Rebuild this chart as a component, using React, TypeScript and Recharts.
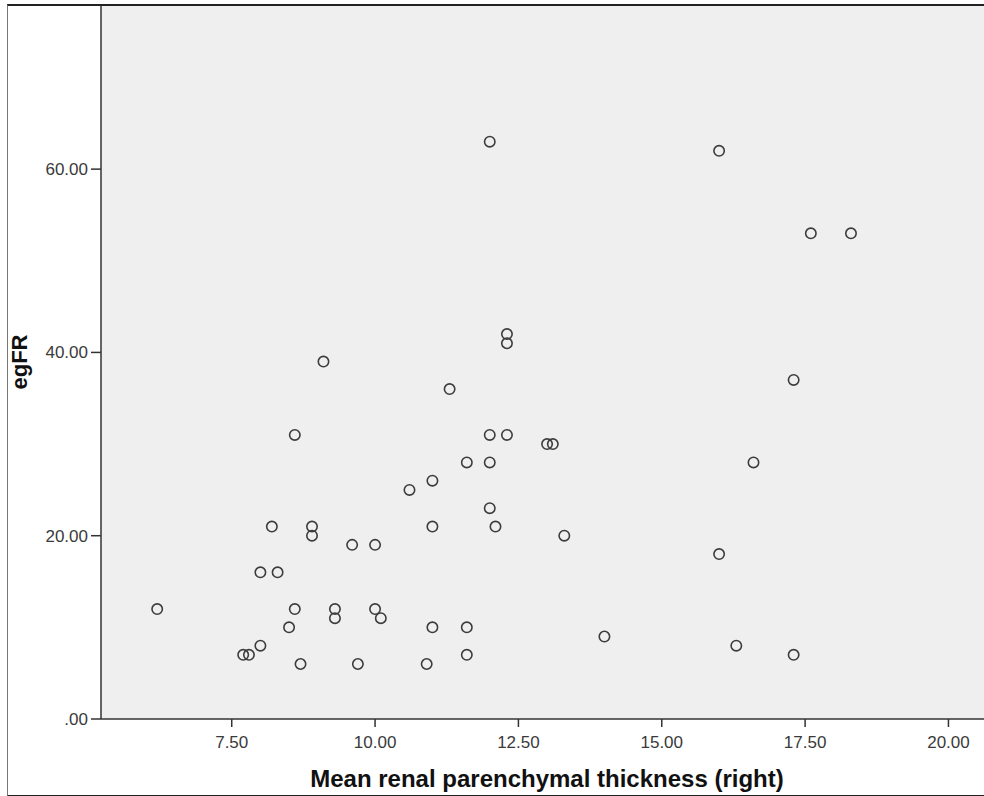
import { ScatterChart, Scatter, XAxis, YAxis, CartesianGrid } from "recharts";

// right parenchymal thickness (mm) vs egFR
const thickness = [
  6.2, 7.7, 7.8, 8.0, 8.0, 8.3, 8.2, 8.5, 8.6, 8.6, 8.7, 8.9, 8.9, 9.1, 9.3, 9.3, 9.6,
  9.7, 10.0, 10.0, 10.1, 10.6, 10.9, 11.0, 11.0, 11.0, 11.3, 11.6, 11.6, 11.6, 12.0,
  12.0, 12.0, 12.0, 12.1, 12.3, 12.3, 12.3, 13.0, 13.1, 13.3, 14.0, 16.0, 16.0, 16.3,
  16.6, 17.3, 17.3, 17.6, 18.3,
];
const egfr = [
  12, 7, 7, 8, 16, 16, 21, 10, 12, 31, 6, 21, 20, 39, 12, 11, 19,
  6, 19, 12, 11, 25, 6, 26, 21, 10, 36, 28, 10, 7, 63,
  31, 28, 23, 21, 42, 41, 31, 30, 30, 20, 9, 62, 18, 8,
  28, 37, 7, 53, 53,
];
const xTicks = [7.5, 10, 12.5, 15, 17.5, 20];
const yTicks = [0, 20, 40, 60];

const points = thickness.map((x, i) => ({ x, y: egfr[i] }));

const FONT = '"Liberation Sans", Arial, sans-serif';
const tickStyle = { fontSize: 17, fill: "#3a3a3a", fontFamily: FONT };

const fmtY = (v: number) => (v === 0 ? ".00" : v.toFixed(2));

const OpenDot = (props: any) => (
  <circle cx={props.cx} cy={props.cy} r={5.2} fill="none" stroke="#3c3c3c" strokeWidth={1.6} />
);

export default function App() {
  return (
    <div style={{ position: "absolute", left: 0, top: 0, width: 984, height: 796, background: "#fff" }}>
      <div
        style={{
          position: "absolute",
          left: 7,
          top: 4,
          width: 990,
          height: 789,
          borderLeft: "1px solid #777",
          borderTop: "2px solid #222",
          borderBottom: "2px solid #222",
        }}
      />
      <div style={{ position: "absolute", left: 0, top: 0 }}>
        <ScatterChart width={984} height={796} margin={{ top: 6, right: 0, bottom: 0, left: 0 }}>
          <CartesianGrid horizontal={false} vertical={false} fill="#efefef" stroke="none" />
          <XAxis
            type="number"
            dataKey="x"
            domain={[5.22, 20.62]}
            ticks={xTicks}
            allowDataOverflow
            tickFormatter={(v: number) => v.toFixed(2)}
            tick={tickStyle}
            tickSize={8}
            tickMargin={9}
            height={77}
            stroke="#333"
            strokeWidth={1.5}
            label={{
              content: () => (
                <text
                  x={547}
                  y={787}
                  textAnchor="middle"
                  fontFamily={FONT}
                  fontWeight="bold"
                  fontSize={24}
                  fill="#111"
                >
                  Mean renal parenchymal thickness (right)
                </text>
              ),
            }}
          />
          <YAxis
            type="number"
            dataKey="y"
            domain={[0, 77.8]}
            ticks={yTicks}
            allowDataOverflow
            tickFormatter={fmtY}
            tick={tickStyle}
            tickSize={10}
            tickMargin={3}
            width={101}
            stroke="#333"
            strokeWidth={1.5}
            label={{
              content: () => (
                <text
                  x={0}
                  y={0}
                  transform="translate(27,362) rotate(-90)"
                  textAnchor="middle"
                  fontFamily={FONT}
                  fontWeight="bold"
                  fontSize={22}
                  fill="#111"
                >
                  egFR
                </text>
              ),
            }}
          />
          <Scatter data={points} shape={OpenDot} isAnimationActive={false} />
        </ScatterChart>
      </div>
    </div>
  );
}
